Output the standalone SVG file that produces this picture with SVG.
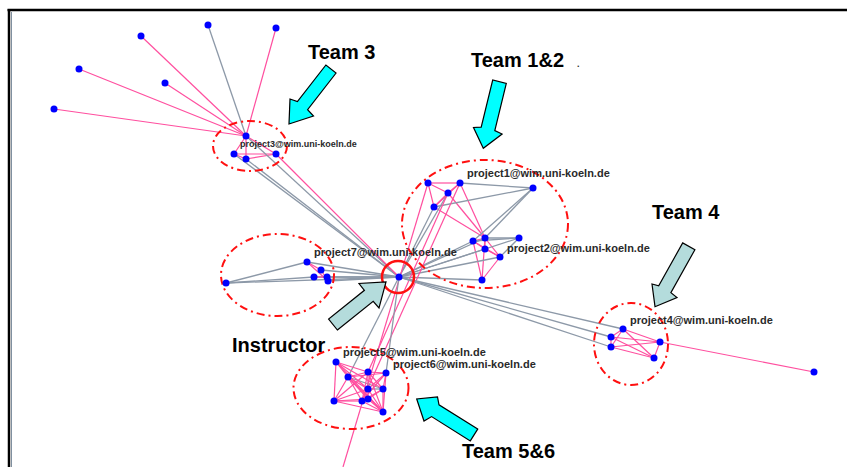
<svg xmlns="http://www.w3.org/2000/svg" width="847" height="467" viewBox="0 0 847 467">
<style>
.g{stroke:#8d99a8;stroke-width:1.3;fill:none}
.p{stroke:#ff4f9f;stroke-width:1.2;fill:none}
.n{fill:#0000ff}
.ell{fill:none;stroke:#ff1010;stroke-width:2;stroke-dasharray:8,4,2,4}
.lbl{font-family:"Liberation Sans",Arial,sans-serif;font-weight:bold;font-size:11px;fill:#2a2a2a}
.sm{font-size:9px}
.big{font-family:"Liberation Sans",Arial,sans-serif;font-weight:bold;font-size:20px;fill:#000}
.ac{fill:#00ffff;stroke:#000;stroke-width:1.2}
.al{fill:#b4dcdc;stroke:#000;stroke-width:1.2}
</style>
<rect width="847" height="467" fill="#fff"/>
<line x1="7.5" y1="10" x2="847" y2="10" stroke="#000" stroke-width="2.5"/>
<line x1="9" y1="9" x2="9" y2="467" stroke="#000" stroke-width="2.5"/>
<line x1="11.5" y1="12" x2="11.5" y2="467" stroke="#8090a0" stroke-width="1"/>

<g id="connectors">
<!-- team 3 -->
<line class="p" x1="246" y1="136" x2="141" y2="36"/>
<line class="p" x1="246" y1="136" x2="79" y2="69"/>
<line class="p" x1="246" y1="136" x2="165" y2="83"/>
<line class="p" x1="246" y1="136" x2="54" y2="109"/>
<line class="p" x1="246" y1="136" x2="276" y2="28"/>
<line class="g" x1="208" y1="25" x2="246" y2="136"/>
<line class="p" x1="246" y1="136" x2="234" y2="154"/>
<line class="p" x1="246" y1="136" x2="246" y2="159"/>
<line class="p" x1="246" y1="136" x2="276" y2="154"/>
<line class="p" x1="234" y1="154" x2="276" y2="154"/>
<line class="p" x1="246" y1="159" x2="276" y2="154"/>
<line class="p" x1="234" y1="154" x2="246" y2="159"/>
<line class="g" x1="246" y1="136" x2="399" y2="277"/>
<line class="g" x1="246" y1="159" x2="399" y2="277"/>
<line class="g" x1="234" y1="154" x2="399" y2="277"/>
<line class="p" x1="276" y1="154" x2="399" y2="277"/>
<!-- team 1&2 -->
<line class="p" x1="428" y1="183" x2="460" y2="183"/>
<line class="p" x1="428" y1="183" x2="448" y2="193"/>
<line class="p" x1="428" y1="183" x2="434" y2="207"/>
<line class="p" x1="460" y1="183" x2="448" y2="193"/>
<line class="p" x1="460" y1="183" x2="434" y2="207"/>
<line class="p" x1="448" y1="193" x2="434" y2="207"/>
<line class="p" x1="460" y1="183" x2="485" y2="238"/>
<line class="p" x1="448" y1="193" x2="485" y2="238"/>
<line class="p" x1="434" y1="207" x2="485" y2="238"/>
<line class="g" x1="460" y1="183" x2="533" y2="188"/>
<line class="g" x1="434" y1="207" x2="533" y2="188"/>
<line class="g" x1="485" y1="238" x2="533" y2="188"/>
<line class="g" x1="473" y1="241" x2="533" y2="188"/>
<line class="p" x1="485" y1="238" x2="473" y2="241"/>
<line class="p" x1="485" y1="238" x2="485" y2="249"/>
<line class="p" x1="473" y1="241" x2="485" y2="249"/>
<line class="p" x1="473" y1="241" x2="500" y2="257"/>
<line class="p" x1="485" y1="249" x2="500" y2="257"/>
<line class="p" x1="485" y1="238" x2="500" y2="257"/>
<line class="p" x1="485" y1="238" x2="482" y2="280"/>
<line class="p" x1="473" y1="241" x2="482" y2="280"/>
<line class="p" x1="500" y1="257" x2="482" y2="280"/>
<line class="g" x1="473" y1="241" x2="519" y2="238"/>
<line class="g" x1="485" y1="238" x2="519" y2="238"/>
<line class="g" x1="500" y1="257" x2="519" y2="238"/>
<line class="g" x1="399" y1="277" x2="434" y2="207"/>
<line class="g" x1="399" y1="277" x2="448" y2="193"/>
<line class="g" x1="399" y1="277" x2="473" y2="241"/>
<line class="g" x1="399" y1="277" x2="485" y2="238"/>
<line class="g" x1="399" y1="277" x2="485" y2="249"/>
<line class="g" x1="399" y1="277" x2="500" y2="257"/>
<line class="g" x1="399" y1="277" x2="482" y2="280"/>
<line class="g" x1="399" y1="277" x2="519" y2="238"/>
<!-- long pink through center -->
<line class="p" x1="343" y1="467" x2="428" y2="183"/>
<line class="p" x1="368" y1="372" x2="448" y2="193"/>
<line class="p" x1="362" y1="401" x2="460" y2="183"/>
<!-- team 7 -->
<line class="g" x1="399" y1="277" x2="307" y2="262"/>
<line class="g" x1="399" y1="277" x2="321" y2="270"/>
<line class="g" x1="399" y1="277" x2="314" y2="277"/>
<line class="g" x1="399" y1="277" x2="327" y2="277"/>
<line class="g" x1="399" y1="277" x2="328" y2="281"/>
<line class="g" x1="399" y1="277" x2="226" y2="283"/>
<line class="g" x1="226" y1="283" x2="307" y2="262"/>
<line class="g" x1="226" y1="283" x2="314" y2="277"/>
<line class="p" x1="307" y1="262" x2="321" y2="270"/>
<line class="p" x1="307" y1="262" x2="328" y2="281"/>
<line class="p" x1="321" y1="270" x2="328" y2="281"/>
<line class="p" x1="314" y1="277" x2="327" y2="277"/>
<!-- team 4 -->
<line class="g" x1="399" y1="277" x2="623" y2="329"/>
<line class="g" x1="399" y1="277" x2="611" y2="337"/>
<line class="g" x1="399" y1="277" x2="611" y2="347"/>
<line class="p" x1="623" y1="329" x2="611" y2="337"/>
<line class="p" x1="623" y1="329" x2="611" y2="347"/>
<line class="p" x1="623" y1="329" x2="660" y2="342"/>
<line class="p" x1="623" y1="329" x2="654" y2="358"/>
<line class="p" x1="611" y1="337" x2="611" y2="347"/>
<line class="p" x1="611" y1="337" x2="660" y2="342"/>
<line class="p" x1="611" y1="337" x2="654" y2="358"/>
<line class="p" x1="611" y1="347" x2="660" y2="342"/>
<line class="p" x1="611" y1="347" x2="654" y2="358"/>
<line class="p" x1="660" y1="342" x2="654" y2="358"/>
<line class="p" x1="660" y1="342" x2="814" y2="372"/>
<!-- team 5&6 -->
<line class="g" x1="399" y1="277" x2="348" y2="377"/>
<line class="g" x1="399" y1="277" x2="386" y2="373"/>
<line class="g" x1="348" y1="377" x2="383" y2="389"/>
<line class="g" x1="368" y1="389" x2="383" y2="389"/>
<line class="p" x1="336" y1="362" x2="348" y2="377"/>
<line class="p" x1="336" y1="362" x2="368" y2="372"/>
<line class="p" x1="336" y1="362" x2="368" y2="389"/>
<line class="p" x1="336" y1="362" x2="383" y2="389"/>
<line class="p" x1="336" y1="362" x2="334" y2="401"/>
<line class="p" x1="336" y1="362" x2="383" y2="412"/>
<line class="p" x1="348" y1="377" x2="368" y2="372"/>
<line class="p" x1="348" y1="377" x2="386" y2="373"/>
<line class="p" x1="348" y1="377" x2="368" y2="389"/>
<line class="p" x1="348" y1="377" x2="334" y2="401"/>
<line class="p" x1="348" y1="377" x2="362" y2="401"/>
<line class="p" x1="348" y1="377" x2="368" y2="399"/>
<line class="p" x1="348" y1="377" x2="383" y2="412"/>
<line class="p" x1="368" y1="372" x2="386" y2="373"/>
<line class="p" x1="368" y1="372" x2="368" y2="389"/>
<line class="p" x1="368" y1="372" x2="383" y2="389"/>
<line class="p" x1="368" y1="372" x2="334" y2="401"/>
<line class="p" x1="368" y1="372" x2="362" y2="401"/>
<line class="p" x1="368" y1="372" x2="383" y2="412"/>
<line class="p" x1="386" y1="373" x2="368" y2="389"/>
<line class="p" x1="386" y1="373" x2="383" y2="389"/>
<line class="p" x1="386" y1="373" x2="362" y2="401"/>
<line class="p" x1="386" y1="373" x2="383" y2="412"/>
<line class="p" x1="368" y1="389" x2="334" y2="401"/>
<line class="p" x1="368" y1="389" x2="362" y2="401"/>
<line class="p" x1="368" y1="389" x2="368" y2="399"/>
<line class="p" x1="368" y1="389" x2="383" y2="412"/>
<line class="p" x1="383" y1="389" x2="362" y2="401"/>
<line class="p" x1="383" y1="389" x2="368" y2="399"/>
<line class="p" x1="383" y1="389" x2="383" y2="412"/>
<line class="p" x1="334" y1="401" x2="362" y2="401"/>
<line class="p" x1="334" y1="401" x2="368" y2="399"/>
<line class="p" x1="334" y1="401" x2="383" y2="412"/>
<line class="p" x1="362" y1="401" x2="368" y2="399"/>
<line class="p" x1="362" y1="401" x2="383" y2="412"/>
<line class="p" x1="368" y1="399" x2="383" y2="412"/>
</g>

<g id="team3">
<ellipse class="ell" cx="250" cy="146" rx="37" ry="25"/>
<circle class="n" cx="208" cy="25" r="3.5"/>
<circle class="n" cx="276" cy="28" r="3.5"/>
<circle class="n" cx="141" cy="36" r="3.5"/>
<circle class="n" cx="79" cy="69" r="3.5"/>
<circle class="n" cx="165" cy="83" r="3.5"/>
<circle class="n" cx="54" cy="109" r="3.5"/>
<circle class="n" cx="246" cy="136" r="3.5"/>
<circle class="n" cx="234" cy="154" r="3.5"/>
<circle class="n" cx="246" cy="159" r="3.5"/>
<circle class="n" cx="276" cy="154" r="3.5"/>
<text class="lbl sm" x="240" y="147">project3@wim.uni-koeln.de</text>
</g>

<g id="team12">
<ellipse class="ell" cx="485" cy="224" rx="83" ry="64"/>
<circle class="n" cx="428" cy="183" r="3.5"/>
<circle class="n" cx="460" cy="183" r="3.5"/>
<circle class="n" cx="448" cy="193" r="3.5"/>
<circle class="n" cx="434" cy="207" r="3.5"/>
<circle class="n" cx="533" cy="188" r="3.5"/>
<circle class="n" cx="485" cy="238" r="3.5"/>
<circle class="n" cx="473" cy="241" r="3.5"/>
<circle class="n" cx="519" cy="238" r="3.5"/>
<circle class="n" cx="485" cy="249" r="3.5"/>
<circle class="n" cx="500" cy="257" r="3.5"/>
<circle class="n" cx="482" cy="280" r="3.5"/>
<text class="lbl" x="467" y="177">project1@wim.uni-koeln.de</text>
<text class="lbl" x="507" y="252">project2@wim.uni-koeln.de</text>
</g>

<g id="team7">
<ellipse class="ell" cx="277.5" cy="275" rx="56.5" ry="41"/>
<circle class="n" cx="307" cy="262" r="3.5"/>
<circle class="n" cx="321" cy="270" r="3.5"/>
<circle class="n" cx="314" cy="277" r="3.5"/>
<circle class="n" cx="327" cy="277" r="3.5"/>
<circle class="n" cx="328" cy="281" r="3.5"/>
<circle class="n" cx="226" cy="283" r="3.5"/>
<text class="lbl" x="314" y="256">project7@wim.uni-koeln.de</text>
</g>

<g id="team4">
<ellipse class="ell" cx="631" cy="344" rx="37" ry="41"/>
<circle class="n" cx="623" cy="329" r="3.5"/>
<circle class="n" cx="611" cy="337" r="3.5"/>
<circle class="n" cx="611" cy="347" r="3.5"/>
<circle class="n" cx="660" cy="342" r="3.5"/>
<circle class="n" cx="654" cy="358" r="3.5"/>
<circle class="n" cx="814" cy="372" r="3.5"/>
<text class="lbl" x="630" y="324">project4@wim.uni-koeln.de</text>
</g>

<g id="team56">
<ellipse class="ell" cx="351" cy="388" rx="57.5" ry="41"/>
<circle class="n" cx="336" cy="362" r="3.5"/>
<circle class="n" cx="348" cy="377" r="3.5"/>
<circle class="n" cx="368" cy="372" r="3.5"/>
<circle class="n" cx="386" cy="373" r="3.5"/>
<circle class="n" cx="368" cy="389" r="3.5"/>
<circle class="n" cx="383" cy="389" r="3.5"/>
<circle class="n" cx="334" cy="401" r="3.5"/>
<circle class="n" cx="362" cy="401" r="3.5"/>
<circle class="n" cx="368" cy="399" r="3.5"/>
<circle class="n" cx="383" cy="412" r="3.5"/>
<text class="lbl" x="343" y="355.5" font-size="10.5">project5@wim.uni-koeln.de</text>
<text class="lbl" x="393" y="367.5" font-size="10.5">project6@wim.uni-koeln.de</text>
</g>

<g id="instructor">
<circle cx="398" cy="277" r="16" fill="none" stroke="#ff1010" stroke-width="2.5"/>
<circle class="n" cx="399" cy="277" r="3.5"/>
<polygon class="al" points="337.4,330 373.2,301.3 379,308 386,282 359,283.5 364.4,290.3 328.6,319"/>
<text class="big" x="232" y="352">Instructor</text>
</g>

<g id="label-team3">
<polygon class="ac" points="336.1,73 307.6,109.6 313.5,116 289,124 290,99 297.4,101.6 325.9,65"/>
<text class="big" x="308" y="59">Team 3</text>
</g>
<g id="label-team12">
<polygon class="ac" points="506.3,83.4 494.8,130.6 502.1,134 483.3,148.3 473.5,127.5 481.2,127.2 492.7,80"/>
<text class="big" x="471" y="67">Team 1&amp;2</text>
<text class="lbl sm" x="577" y="67">.</text>
</g>
<g id="label-team4">
<polygon class="al" points="694.9,249.7 670.9,292.6 677,297.5 655,306.7 652,284 658.7,285.8 682.7,242.9"/>
<text class="big" x="652" y="219">Team 4</text>
</g>
<g id="label-team56">
<polygon class="ac" points="477.7,429.1 439,404.8 437.5,397 416.7,399 424,421 431.6,416.6 470.3,440.9"/>
<text class="big" x="462" y="458">Team 5&amp;6</text>
</g>
</svg>
